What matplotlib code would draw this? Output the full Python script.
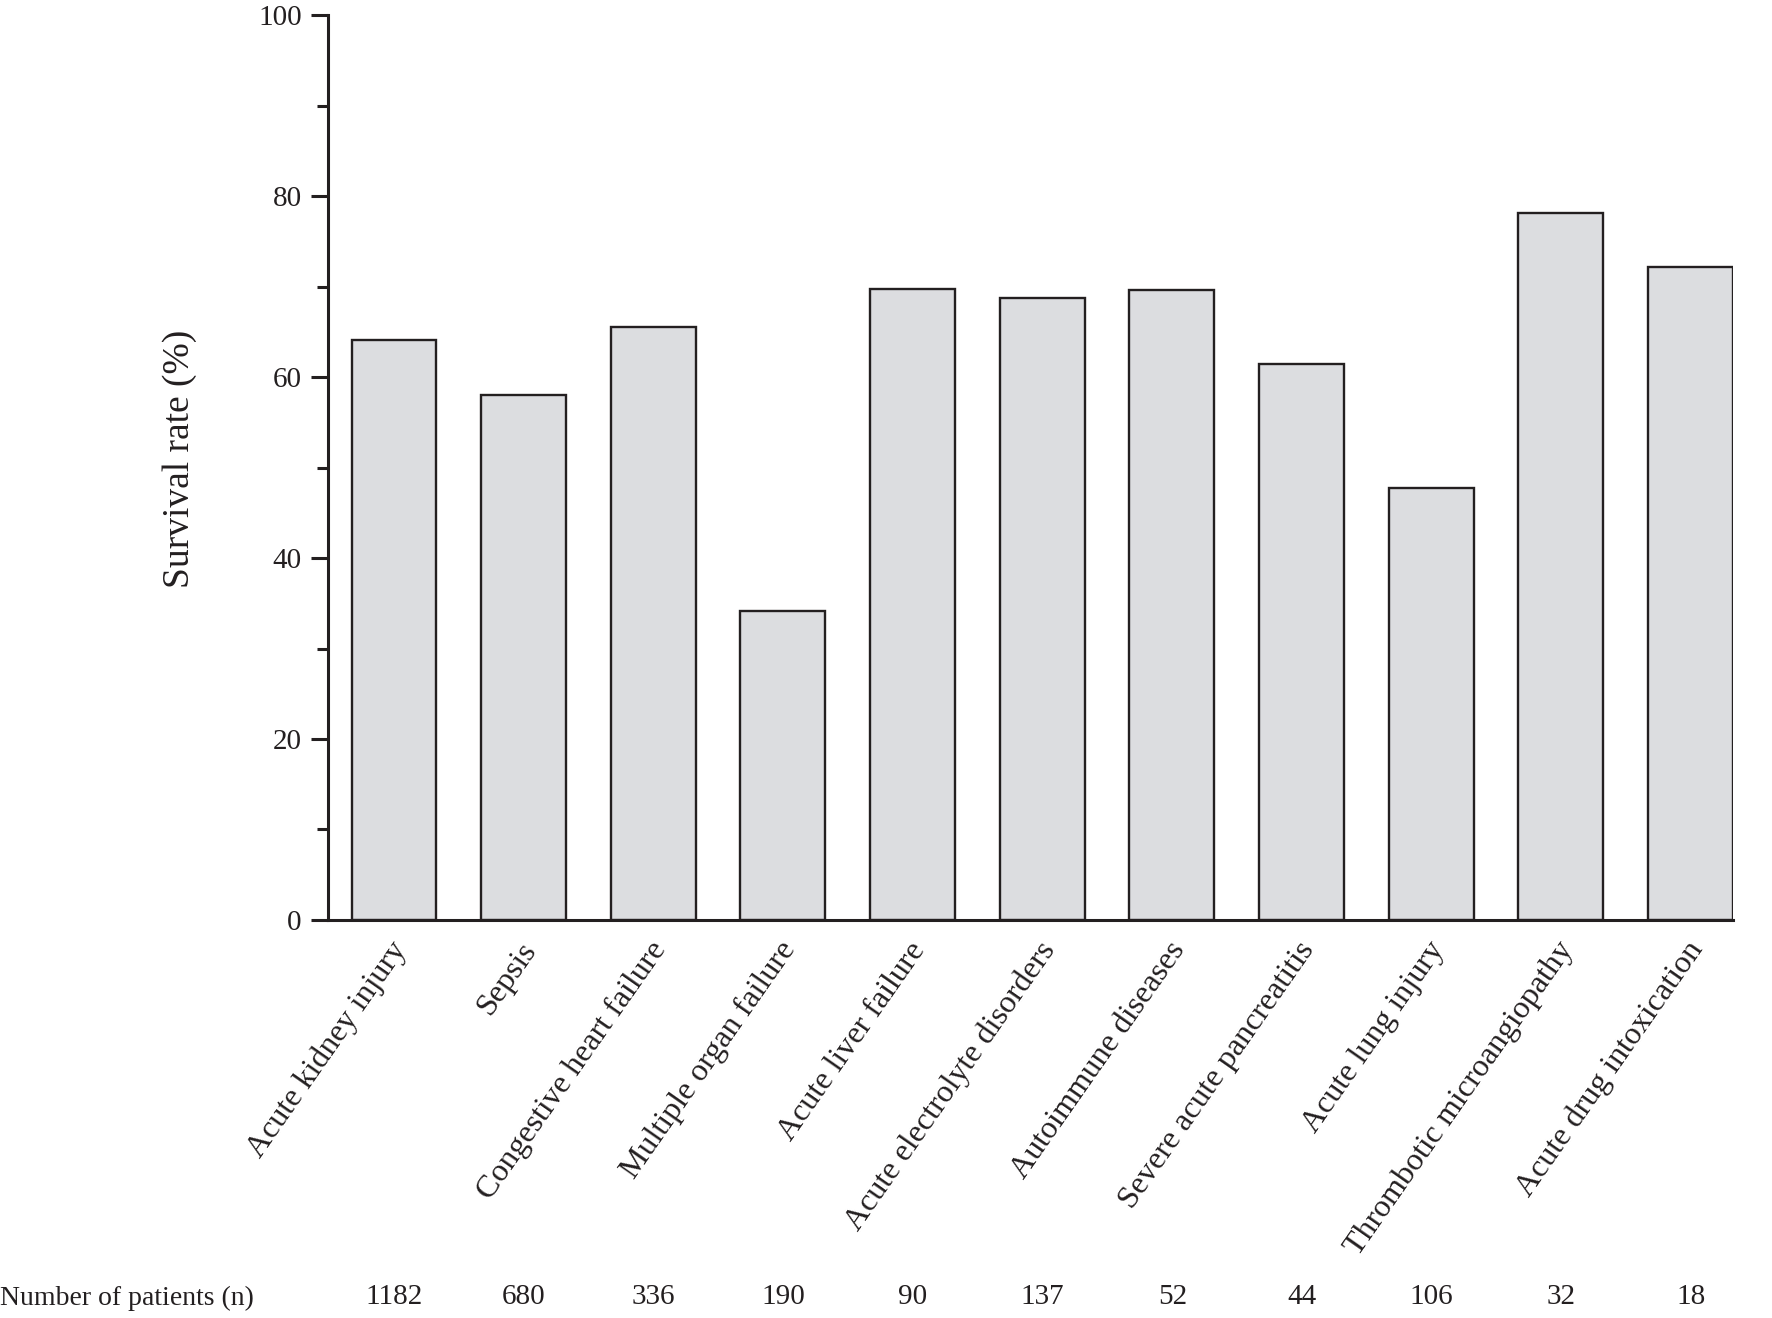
import numpy as np
import matplotlib.pyplot as plt
import matplotlib.transforms as mtransforms
from matplotlib.ticker import MultipleLocator

# data
categories = ['Acute kidney injury', 'Sepsis', 'Congestive heart failure',
              'Multiple organ failure', 'Acute liver failure',
              'Acute electrolyte disorders', 'Autoimmune diseases',
              'Severe acute pancreatitis', 'Acute lung injury',
              'Thrombotic microangiopathy', 'Acute drug intoxication']
survival = [64.1, 58.0, 65.5, 34.2, 69.8, 68.7, 69.6, 61.5, 47.8, 78.2, 72.2]
patients = [1182, 680, 336, 190, 90, 137, 52, 44, 106, 32, 18]

dark = '#231f20'
plt.rcParams['font.family'] = ['Liberation Serif', 'DejaVu Serif']
plt.rcParams['text.color'] = dark

fig = plt.figure(figsize=(17.72, 13.18), dpi=100)
ax = fig.add_axes([0.1851, 0.302, 0.7929, 0.6864])

x = np.arange(len(categories))
ax.bar(x, survival, width=0.655, color='#dcdde0', edgecolor=dark, linewidth=1.7)

ax.set_xlim(-0.509, 10.328)
ax.set_ylim(0, 100)
ax.yaxis.set_major_locator(MultipleLocator(20))
ax.yaxis.set_minor_locator(MultipleLocator(10))

for s in ['top', 'right']:
    ax.spines[s].set_visible(False)
for s in ['left', 'bottom']:
    ax.spines[s].set_linewidth(2.2)
    ax.spines[s].set_color(dark)

ax.tick_params(axis='y', which='major', length=12, width=2.2, color=dark,
               labelsize=21, labelcolor=dark, pad=7)
ax.tick_params(axis='y', which='minor', length=8, width=2.2, color=dark)
ax.set_xticks(x)
ax.set_xticklabels(categories, rotation=55, ha='right', va='center',
                   rotation_mode='anchor', fontsize=23, color=dark)
ax.tick_params(axis='x', length=0, pad=18)
shift = mtransforms.ScaledTranslation(0.07, 0, fig.dpi_scale_trans)
for lab in ax.get_xticklabels():
    lab.set_transform(lab.get_transform() + shift)

ax.set_ylabel('Survival rate (%)', fontsize=27, color=dark)
ax.yaxis.set_label_coords(-0.093, 0.51)

# patient counts row under the chart
fig.text(0.0, 0.005, 'Number of patients (n)', fontsize=20, ha='left', va='bottom')
for xi, n in zip(x, patients):
    ax.annotate(str(n), xy=(xi, 0), xycoords=('data', 'axes fraction'),
                xytext=(0.3, 0.006), textcoords=('offset points', 'figure fraction'),
                ha='center', va='bottom', fontsize=21)

fig.savefig('out.png', dpi=100)
